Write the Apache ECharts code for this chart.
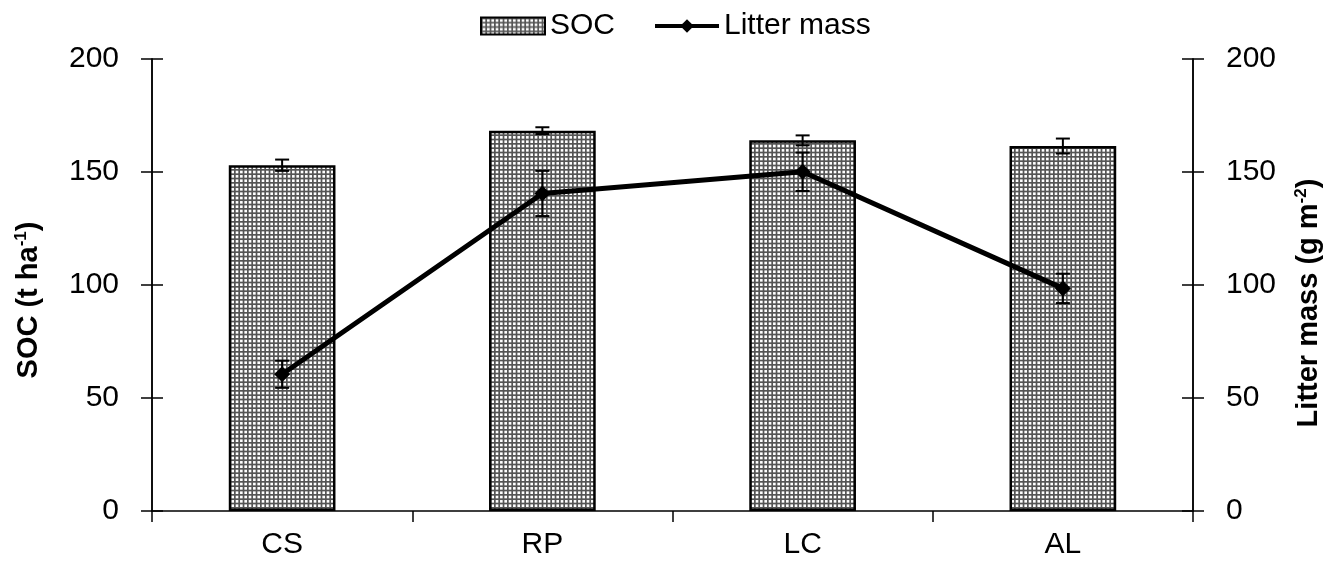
<!DOCTYPE html>
<html>
<head>
<meta charset="utf-8">
<script src="https://cdn.jsdelivr.net/npm/echarts@6/dist/echarts.min.js"></script>
<style>
  html, body { margin: 0; padding: 0; background: #fff; }
  #chart { width: 1325px; height: 575px; }
</style>
</head>
<body>
<div id="chart"></div>
<script>
// data
const sites = ['CS', 'RP', 'LC', 'AL']
const socValues = [153, 168.3, 164, 161.5]
const socErrors = [2.5, 1.5, 2.2, 3.3]
const litterValues = [60.5, 140.5, 150.1, 98.5]
const litterErrors = [6, 10, 8.5, 6.5]
const tickValues = [0, 50, 100, 150, 200]

// grid hatch used for the bars (3 cells of ~4.33px)
const makeHatch = () => {
  const c = document.createElement('canvas')
  c.width = 13
  c.height = 13
  const ctx = c.getContext('2d')
  ctx.fillStyle = '#fff'
  ctx.fillRect(0, 0, 13, 13)
  ctx.fillStyle = '#555'
  for (let k = 0; k < 3; k++) {
    const p = k * 13 / 3
    ctx.fillRect(p, 0, 1.7, 13)
    ctx.fillRect(0, p, 13, 1.7)
  }
  return c
}
const hatch = { image: makeHatch(), repeat: 'repeat' }

const errorData = (vals, errs) => vals.map((v, i) => [i, v - errs[i], v + errs[i]])

const errorBar = (capHalf) => (params, api) => {
  const lo = api.coord([api.value(0), api.value(1)])
  const hi = api.coord([api.value(0), api.value(2)])
  const style = { stroke: '#000', lineWidth: 2 }
  return {
    type: 'group',
    children: [
      { type: 'line', shape: { x1: hi[0], y1: hi[1], x2: lo[0], y2: lo[1] }, style },
      { type: 'line', shape: { x1: hi[0] - capHalf, y1: hi[1], x2: hi[0] + capHalf, y2: hi[1] }, style },
      { type: 'line', shape: { x1: lo[0] - capHalf, y1: lo[1], x2: lo[0] + capHalf, y2: lo[1] }, style }
    ]
  }
}

const font = 'Liberation Sans, Arial, sans-serif'

const titleRich = {
  b: { fontSize: 29, fontWeight: 'bold', color: '#000', fontFamily: font },
  s: { fontSize: 17, fontWeight: 'bold', color: '#000', fontFamily: font, padding: [0, 0, 14, 0] }
}

const valueAxis = (pos, extra) => Object.assign({
  type: 'value',
  position: pos,
  min: tickValues[0],
  max: tickValues[tickValues.length - 1],
  interval: 50,
  splitLine: { show: false },
  axisLine: { show: true, lineStyle: { color: '#000', width: 1.5 } },
  axisTick: { show: true, length: 11, lineStyle: { color: '#000', width: 1.5 } },
  axisLabel: { color: '#000', fontSize: 30, fontFamily: font, margin: 33 }
}, extra)

const chart = echarts.init(document.getElementById('chart'))

chart.setOption({
  backgroundColor: '#fff',
  animation: false,
  textStyle: { fontFamily: font },
  legend: {
    top: 6,
    left: 475,
    itemWidth: 64,
    itemHeight: 17,
    itemGap: 38,
    textStyle: { fontSize: 30, color: '#000', fontFamily: font },
    data: [
      { name: 'SOC', icon: 'rect' },
      { name: 'Litter mass', lineStyle: { width: 4, color: '#000' } }
    ]
  },
  grid: { left: 152, right: 132, top: 59, bottom: 64, outerBoundsMode: 'none' },
  xAxis: [{
    type: 'category',
    data: sites,
    axisLine: { lineStyle: { color: '#000', width: 1.5 } },
    axisTick: { show: true, length: 11, lineStyle: { color: '#000', width: 1.5 } },
    axisLabel: { color: '#000', fontSize: 30, fontFamily: font, margin: 19 }
  }],
  yAxis: [
    valueAxis('left', {
      name: '{b|SOC (t ha}{s|-1}{b|)}',
      nameLocation: 'middle',
      nameRotate: 90,
      nameGap: 108,
      nameTextStyle: { rich: titleRich, padding: [0, 30, 0, 0] }
    }),
    valueAxis('right', {
      name: '{b|Litter mass (g m}{s|-2}{b|)}',
      nameLocation: 'middle',
      nameRotate: 90,
      nameGap: 100,
      nameTextStyle: { rich: titleRich, padding: [0, 36, 0, 0] }
    }),
    // inner half of the crossing ticks on both sides
    valueAxis('left', {
      axisTick: { show: true, inside: true, length: 11, lineStyle: { color: '#000', width: 1.5 } },
      axisLabel: { show: false }
    }),
    valueAxis('right', {
      axisTick: { show: true, inside: true, length: 11, lineStyle: { color: '#000', width: 1.5 } },
      axisLabel: { show: false }
    })
  ],
  series: [
    {
      name: 'SOC',
      type: 'bar',
      yAxisIndex: 0,
      barWidth: '41%',
      data: socValues,
      itemStyle: { color: hatch, borderColor: '#000', borderWidth: 2.5 }
    },
    {
      name: 'SOC err',
      type: 'custom',
      yAxisIndex: 0,
      renderItem: errorBar(7),
      data: errorData(socValues, socErrors),
      z: 3
    },
    {
      name: 'Litter mass',
      type: 'line',
      yAxisIndex: 1,
      data: litterValues,
      symbol: 'diamond',
      symbolSize: 16,
      lineStyle: { color: '#000', width: 5 },
      itemStyle: { color: '#000' },
      z: 4
    },
    {
      name: 'Litter err',
      type: 'custom',
      yAxisIndex: 1,
      renderItem: errorBar(7),
      data: errorData(litterValues, litterErrors),
      z: 5
    }
  ]
})
</script>
</body>
</html>
